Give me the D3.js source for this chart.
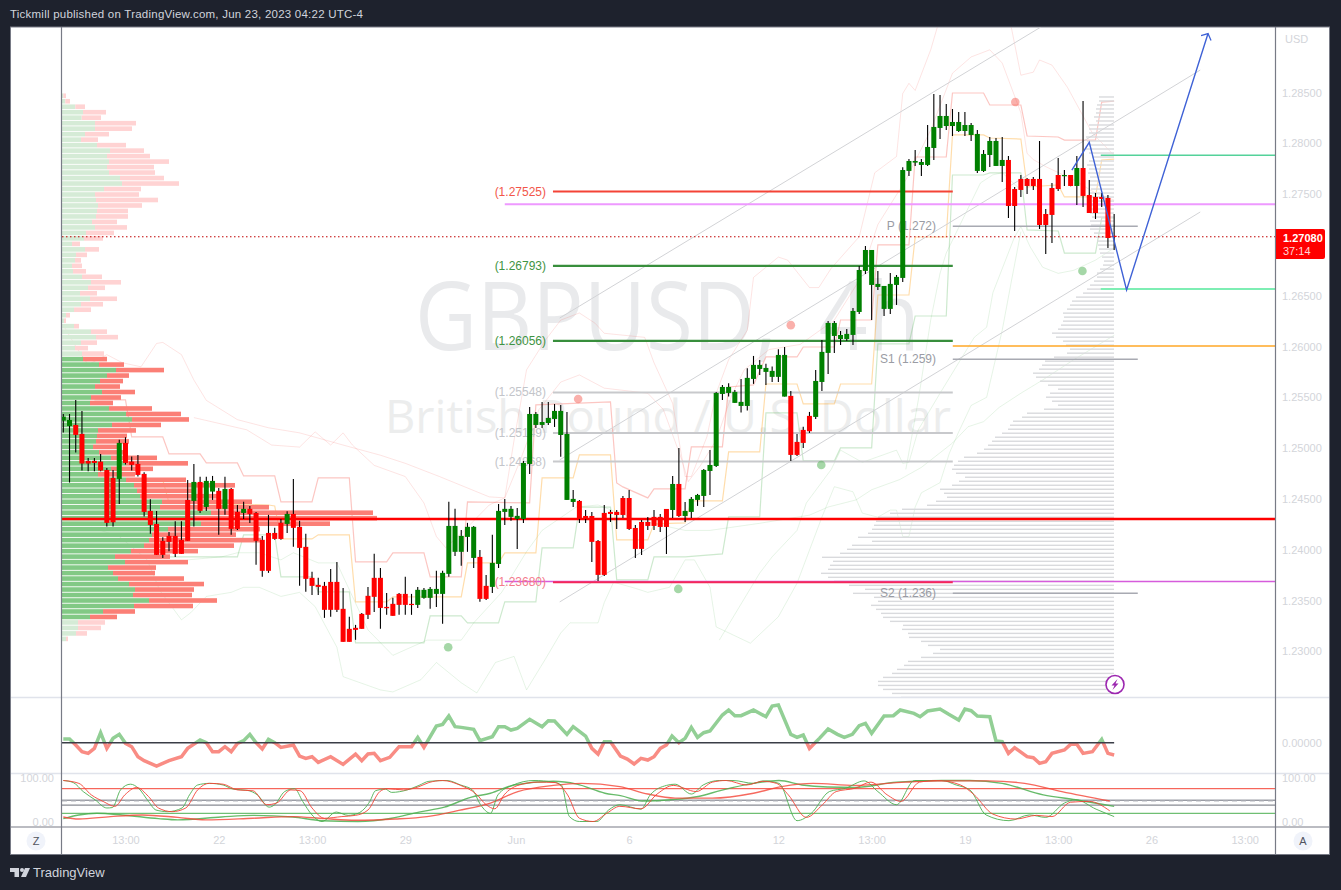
<!DOCTYPE html>
<html><head><meta charset="utf-8">
<style>html,body{margin:0;padding:0;background:#1e222d;overflow:hidden}svg{display:block}text{font-family:"Liberation Sans",Arial,sans-serif}</style>
<script src="https://cdn.jsdelivr.net/npm/d3@7/dist/d3.min.js"></script>
</head><body><svg id="c" width="1341" height="890"></svg>
<script>
// ---------- candles (GBPUSD 4h) ----------
const opens=[1.25271,1.25218,1.25228,1.25140,1.24874,1.24874,1.24867,1.24785,1.24707,1.24697,1.25051,1.24867,1.24844,1.24746,1.24382,1.24254,1.24087,1.24136,1.24136,1.24097,1.24490,1.24480,1.24667,1.24421,1.24572,1.24579,1.24402,1.24598,1.24372,1.24362,1.24402,1.24362,1.24097,1.24165,1.24165,1.24264,1.24254,1.24352,1.24225,1.24028,1.23723,1.23654,1.23644,1.23683,1.23683,1.23418,1.23221,1.23231,1.23368,1.23546,1.23723,1.23723,1.23437,1.23467,1.23565,1.23565,1.23467,1.23457,1.23526,1.23526,1.23565,1.23565,1.23762,1.23979,1.23979,1.24126,1.23919,1.23929,1.23644,1.23634,1.23860,1.24372,1.24323,1.24303,1.24303,1.24844,1.25228,1.25228,1.25247,1.25287,1.25129,1.24490,1.24470,1.24480,1.24332,1.24332,1.24086,1.24362,1.24372,1.24372,1.24509,1.24509,1.24214,1.24273,1.24273,1.24323,1.24323,1.24401,1.24391,1.24647,1.24332,1.24372,1.24490,1.24529,1.24775,1.24824,1.25533,1.25543,1.25445,1.25415,1.25415,1.25681,1.25779,1.25750,1.25701,1.25701,1.25507,1.25514,1.25061,1.25179,1.25317,1.25307,1.25651,1.25937,1.26104,1.26074,1.26074,1.26114,1.26340,1.26744,1.26606,1.26586,1.26370,1.26370,1.26606,1.26675,1.27728,1.27810,1.27787,1.27787,1.27954,1.28151,1.28170,1.28170,1.28121,1.28121,1.28082,1.27728,1.27728,1.27885,1.27777,1.27777,1.27836,1.27550,1.27649,1.27649,1.27649,1.27649,1.27304,1.27560,1.27688,1.27678,1.27688,1.27580,1.27757,1.27491,1.27472,1.27472,1.27462,1.27090];
const highs=[1.25336,1.25336,1.25474,1.25366,1.24903,1.24903,1.24943,1.24805,1.24785,1.25081,1.25107,1.24917,1.24933,1.24762,1.24497,1.24382,1.24123,1.24175,1.24280,1.24280,1.24687,1.24844,1.24717,1.24717,1.24726,1.24608,1.24717,1.24608,1.24441,1.24471,1.24431,1.24372,1.24136,1.24343,1.24215,1.24303,1.24379,1.24697,1.24284,1.24156,1.23782,1.23723,1.23683,1.23811,1.23880,1.23624,1.23339,1.23260,1.23378,1.23634,1.23959,1.23821,1.23575,1.23526,1.23575,1.23733,1.23565,1.23634,1.23624,1.23634,1.23792,1.23792,1.24471,1.24402,1.24195,1.24264,1.24234,1.23998,1.23752,1.24146,1.24451,1.24500,1.24431,1.24411,1.24874,1.25405,1.25356,1.25454,1.25454,1.25434,1.25425,1.25356,1.24588,1.24490,1.24391,1.24372,1.24096,1.24441,1.24391,1.24391,1.24529,1.24588,1.24244,1.24293,1.24323,1.24391,1.24352,1.24401,1.24726,1.25001,1.24470,1.24519,1.24549,1.24795,1.24982,1.25553,1.25622,1.25638,1.25573,1.25681,1.25786,1.25907,1.25868,1.25829,1.25802,1.25973,1.25996,1.25563,1.25140,1.25209,1.25356,1.25769,1.26065,1.26252,1.26252,1.26153,1.26173,1.26379,1.26793,1.26990,1.26950,1.26744,1.26596,1.26724,1.26704,1.27764,1.27846,1.27934,1.27846,1.28180,1.28485,1.28475,1.28387,1.28338,1.28308,1.28308,1.28200,1.28131,1.27934,1.28062,1.28052,1.28062,1.27875,1.27570,1.27688,1.27659,1.27669,1.28023,1.27354,1.27609,1.27855,1.27737,1.27688,1.27875,1.28416,1.27639,1.27511,1.27511,1.27491,1.27304];
const lows=[1.25153,1.24661,1.24956,1.24779,1.24772,1.24772,1.24772,1.24228,1.24228,1.24451,1.24838,1.24779,1.24720,1.24326,1.24156,1.23949,1.23919,1.23985,1.23929,1.23959,1.24087,1.24228,1.24362,1.24382,1.24490,1.24146,1.24343,1.24146,1.24195,1.24303,1.24264,1.23851,1.23733,1.23772,1.24097,1.24097,1.24165,1.24028,1.23644,1.23585,1.23555,1.23555,1.23329,1.23339,1.23388,1.23093,1.23093,1.23113,1.23221,1.23319,1.23388,1.23221,1.23359,1.23349,1.23359,1.23359,1.23359,1.23427,1.23516,1.23418,1.23437,1.23270,1.23733,1.23939,1.23841,1.23979,1.23821,1.23487,1.23506,1.23575,1.23821,1.24244,1.24284,1.24008,1.24263,1.24746,1.25198,1.25198,1.25228,1.25208,1.24916,1.24490,1.24421,1.24263,1.24263,1.23880,1.23693,1.23742,1.24273,1.24204,1.24313,1.24195,1.23919,1.23949,1.24195,1.24195,1.24175,1.23958,1.24313,1.24323,1.24273,1.24313,1.24431,1.24421,1.24539,1.24815,1.25474,1.25507,1.25445,1.25350,1.25369,1.25632,1.25720,1.25622,1.25651,1.25651,1.25507,1.24874,1.24923,1.25002,1.25149,1.25287,1.25563,1.25730,1.25937,1.26015,1.26055,1.26015,1.26320,1.26714,1.26261,1.26557,1.26301,1.26320,1.26409,1.26635,1.27678,1.27777,1.27678,1.27777,1.27836,1.28042,1.28131,1.28072,1.28111,1.28072,1.28023,1.27708,1.27718,1.27767,1.27777,1.27619,1.27265,1.27137,1.27472,1.27501,1.27541,1.27157,1.26911,1.27019,1.27531,1.27580,1.27577,1.27393,1.27373,1.27314,1.27255,1.27373,1.26970,1.26950];
const closes=[1.25310,1.25277,1.25130,1.24848,1.24848,1.24854,1.24779,1.24264,1.24270,1.25051,1.24854,1.24835,1.24736,1.24372,1.24244,1.23949,1.23949,1.24077,1.23959,1.23959,1.24087,1.24667,1.24382,1.24677,1.24677,1.24402,1.24598,1.24205,1.24205,1.24402,1.24352,1.24087,1.23792,1.23792,1.24106,1.24106,1.24352,1.24215,1.24018,1.23713,1.23644,1.23634,1.23408,1.23408,1.23408,1.23093,1.23093,1.23211,1.23221,1.23359,1.23536,1.23427,1.23424,1.23349,1.23457,1.23457,1.23457,1.23605,1.23605,1.23614,1.23614,1.23772,1.24234,1.24234,1.24136,1.24225,1.24225,1.23516,1.23516,1.23870,1.24382,1.24402,1.24402,1.24333,1.24854,1.25336,1.25336,1.25257,1.25297,1.25366,1.25366,1.25139,1.24500,1.24303,1.24303,1.24077,1.23752,1.23752,1.24352,1.24342,1.24342,1.24204,1.24008,1.24008,1.24234,1.24234,1.24224,1.24224,1.24647,1.24332,1.24382,1.24500,1.24539,1.24785,1.24834,1.25543,1.25602,1.25602,1.25553,1.25455,1.25691,1.25819,1.25819,1.25789,1.25760,1.25917,1.25917,1.24933,1.24933,1.25051,1.25166,1.25661,1.25947,1.26232,1.26232,1.26114,1.26124,1.26350,1.26753,1.26950,1.26950,1.26616,1.26596,1.26616,1.26685,1.27737,1.27826,1.27826,1.27816,1.27964,1.28161,1.28269,1.28269,1.28210,1.28210,1.28180,1.28180,1.28092,1.27895,1.28023,1.28023,1.27836,1.27383,1.27383,1.27541,1.27580,1.27580,1.27196,1.27196,1.27295,1.27550,1.27688,1.27580,1.27757,1.27482,1.27314,1.27314,1.27452,1.27068,1.27080];

// ---------- volume profiles ----------
const vpUp=[1.3,3.3,13.3,21,19.7,33,33,23,19,35,48,45,47,45,47,58,60,42,33,34,36,35,34,30,33,24,22,10,23,14,13,10,11,20,29,26,18,28,19,12,4,2,12,29,34,19,13,20,21,37,54,45,38,33,40,29,28,47,64,70,50,36,35,34,31,37,49,64,49,36,64,72,75,78,100,98,149,131,139,106,90,87,82,69,53,63,46,51,56,67,73,71,87,72,41,28,16,16,14,4];
const vpDown=[2.7,4.7,9.7,23,19.3,41,37,24,17,29,34,43,60,47,46,44,57,37,44,62,44,31,32,25,32,28,19,8,14,11,6,10,13,20,30,17,17,27,22,17,4,2,5,16,22,16,13,22,24,25,48,22,23,25,33,30,23,43,55,57,49,38,30,33,27,24,46,62,42,37,60,101,59,80,90,109,162,184,129,92,84,112,90,67,55,63,48,42,66,75,59,59,68,59,32,27,27,23,11,2];
const grayVol=[15,15,17,18,18,20,18,25,25,25,28,27,25,28,25,22,25,27,25,26,24,25,24,23,25,24,22,24,25,24,22,24,23,24,20,18,17,16,15,14,12,10,11,14,17,17,20,24,27,31,38,42,44,47,51,50,51,53,56,62,58,51,48,44,47,60,69,72,75,81,78,74,66,56,64,68,62,56,70,87,92,101,104,106,112,119,122,126,130,137,150,156,160,162,158,149,155,162,174,170,167,178,187,212,224,236,238,240,242,246,256,242,262,267,274,292,281,284,286,293,286,280,265,249,261,240,236,243,238,233,231,224,211,212,206,205,193,186,174,181,193,206,210,217,222,231,236,236,231,222,213];

// ---------- stepped channel and bands: [bar, price] ----------
const donchianHigh=[[5,1.25474],[10,1.25474],[11,1.2511],[16,1.2511],[17,1.24943],[22,1.24943],[23,1.24854],[28,1.24854],[29,1.24726],[34,1.24726],[35,1.2447],[40,1.2447],[41,1.24706],[46,1.24706],[47,1.2388],[52,1.2388],[53,1.23968],[58,1.23968],[59,1.23732],[64,1.23732],[65,1.2447],[75,1.2446],[76,1.25425],[88,1.25454],[89,1.24657],[90,1.24618],[94,1.2451],[95,1.24598],[100,1.24598],[101,1.25012],[106,1.25012],[107,1.25602],[111,1.25622],[113,1.25897],[118,1.25897],[119,1.25995],[124,1.25995],[125,1.26261],[130,1.26261],[131,1.27],[136,1.27],[137,1.27865],[142,1.27865],[143,1.28495],[148,1.28495],[149,1.28377],[154,1.28377],[155,1.28072],[160,1.28062],[161,1.28032],[166,1.28032],[167,1.28406],[169,1.28416]];
const donchianMid=[[16,1.24687],[17,1.2446],[33,1.2444],[34,1.2443],[35,1.24106],[40,1.24106],[41,1.24146],[46,1.24146],[47,1.23486],[52,1.23486],[53,1.23535],[64,1.23535],[65,1.2387],[70,1.2387],[71,1.23968],[76,1.23968],[77,1.24706],[82,1.24706],[83,1.24933],[88,1.24933],[89,1.24096],[94,1.24096],[95,1.24254],[100,1.24264],[101,1.2448],[106,1.2448],[107,1.24962],[112,1.24962],[113,1.25631],[118,1.25631],[119,1.25435],[124,1.25435],[125,1.25631],[130,1.25631],[131,1.26507],[136,1.26507],[137,1.27078],[142,1.27078],[143,1.28082],[148,1.28082],[149,1.28052],[154,1.28042],[155,1.2757],[160,1.2759],[161,1.27472],[166,1.27472],[167,1.27836],[169,1.27845]];
const donchianLow=[[17,1.2393],[28,1.2393],[29,1.24146],[34,1.24146],[35,1.23732],[40,1.23732],[41,1.23585],[46,1.23585],[47,1.23083],[58,1.23083],[59,1.23349],[64,1.23349],[65,1.2328],[70,1.2328],[71,1.23486],[76,1.23486],[77,1.24018],[82,1.24018],[83,1.2442],[88,1.2442],[89,1.23703],[94,1.23703],[95,1.2393],[100,1.2393],[106,1.23959],[107,1.24323],[112,1.24323],[113,1.25346],[118,1.25346],[119,1.24874],[124,1.24874],[125,1.25002],[130,1.25002],[131,1.26025],[136,1.26025],[137,1.263],[142,1.263],[143,1.27688],[148,1.27688],[149,1.27708],[154,1.27708],[155,1.27147],[160,1.27137],[161,1.2692],[166,1.2692],[167,1.27265],[169,1.27265]];
const bandUpperOuter=[[0,1.2621],[2,1.26],[4,1.2582],[7,1.2592],[9.5,1.2584],[12.5,1.258],[15,1.2603],[16,1.2604],[19,1.2592],[21,1.2567],[23,1.2547],[28,1.2528],[33,1.252],[38,1.2515],[45,1.2503],[51,1.2493],[55,1.2485],[60.5,1.2472],[68.5,1.2452],[71,1.2451],[72.5,1.2508],[74.5,1.2577],[77.5,1.2606],[80,1.2626],[83,1.2633],[85.5,1.2623],[87,1.2613],[93.5,1.2609],[95,1.2584],[98,1.2544],[100,1.2472],[101,1.2472],[103.5,1.2511],[105,1.2554],[107,1.2587],[110,1.2616],[111,1.2668],[115,1.2688],[116.5,1.2685],[120,1.2658],[121.5,1.2658],[123.5,1.2677],[128,1.2708],[130.5,1.2771],[134,1.2787],[135,1.2849],[136,1.2859],[137,1.2852],[139.5,1.2892],[140.5,1.2913],[144,1.2961],[150.5,1.2961],[152.5,1.2913],[154,1.2867],[156,1.287],[157,1.2882],[159,1.2877],[161.5,1.2855],[165.5,1.281],[169,1.2788]];
const bandUpperInner=[[21,1.253],[29.5,1.2518],[33.5,1.2503],[38,1.2501],[40.5,1.2516],[43,1.2503],[45,1.2515],[46.5,1.2503],[50,1.2483],[55,1.2472],[58,1.2446],[60,1.2413],[61.5,1.2402],[64.5,1.2419],[68.5,1.2444],[71,1.2451],[73.5,1.2488],[76.5,1.2538],[80,1.2565],[83,1.2572],[87,1.2559],[94,1.2554],[96.5,1.2538],[99.5,1.2488],[100.5,1.2467],[102.5,1.2483],[105,1.2508],[107.5,1.2552],[109.5,1.2577],[113.5,1.2597],[118.5,1.2602],[124,1.2626],[128,1.2665],[131,1.272],[135.5,1.2764],[139.5,1.2813],[143,1.2869],[146,1.2885],[149,1.2892],[151,1.2879],[154,1.283],[155,1.279],[156,1.2784],[158,1.2777],[162.5,1.2764],[166,1.2751],[169,1.2744]];
const bandLowerInner=[[20,1.239],[25.5,1.2393],[28,1.2397],[31.5,1.2397],[35,1.239],[37,1.2397],[41,1.2387],[44,1.2387],[46.5,1.2354],[49,1.2321],[53,1.2296],[58.5,1.2311],[64,1.2311],[66,1.2328],[70.5,1.2358],[74.5,1.2398],[77,1.2419],[82.5,1.2442],[86,1.2444],[92.5,1.2429],[100,1.2419],[104,1.2419],[112,1.2426],[120,1.2434],[123,1.2442],[127.5,1.2449],[130,1.2459],[134.5,1.2469],[138,1.2481],[143,1.2505],[145.5,1.2521],[148,1.2526],[150.5,1.254],[154,1.2554],[157.5,1.2567],[162.5,1.2587],[169,1.2611]];
const bandLowerOuter=[[4.5,1.2422],[9,1.2413],[13.5,1.239],[15.5,1.236],[19,1.2331],[20.5,1.2338],[23,1.2354],[27,1.2358],[29,1.2363],[31.5,1.2363],[35,1.2354],[38,1.2358],[40.5,1.2344],[44,1.2304],[45,1.2275],[51,1.2262],[53,1.226],[57.5,1.2272],[60,1.2289],[64,1.2269],[66.5,1.2259],[69.5,1.2289],[72.5,1.2295],[74.5,1.2262],[77.5,1.2292],[80,1.2318],[81.5,1.2328],[86,1.2328],[87,1.2348],[88.5,1.2368],[92,1.2362],[94,1.2358],[97.5,1.2363],[100,1.239],[101.5,1.239],[104,1.2363],[105,1.2324],[110.5,1.2308],[115,1.2334],[118,1.2367],[122,1.2432],[124,1.2462],[127,1.2457],[128.5,1.2436],[131,1.2432],[133,1.2439],[134,1.2439],[135,1.2413],[136,1.2413],[137,1.2442],[138,1.2456],[141,1.2466],[142.5,1.2495],[144,1.2516],[146,1.2542],[148.5,1.255],[151,1.2616],[152.5,1.2665],[154,1.2713]];
const bandLowerThird=[[105.5,1.2311],[112,1.2377],[114,1.2393],[118,1.2419],[119.5,1.2446],[123.5,1.2479],[125,1.2498],[128.5,1.2486],[134,1.2498],[135,1.2485],[136,1.2486],[137.5,1.2518],[141,1.2554],[143,1.2574],[146.5,1.2609],[148.5,1.2619],[149.5,1.2653],[153,1.2708],[154,1.2718],[155.5,1.2698],[157.5,1.2678],[160,1.2672],[162.5,1.2675],[166,1.2685],[169,1.2697]];
const bandLowerFourth=[[135.5,1.2479],[137.5,1.2547],[139.5,1.2626],[141,1.2672],[142,1.2692],[147.5,1.2761],[149.5,1.2769],[151,1.2771],[154,1.2754]];

// ---------- channel, drawing, signals ----------
const channels=[[[79.83,1.2628],[157.2,1.29144]],[[79.83,1.24884],[182.85,1.28721]],[[79.83,1.23486],[182.85,1.27324]]];
const forecastPath=[[162.2,1.27737],[165,1.2801],[171,1.26556],[184.1,1.2908]];
const signalsRed=[[82.8,1.25484],[117,1.2621],[153.1,1.28406]];
const signalsGreen=[[61.9,1.2304],[98.9,1.23614],[121.9,1.24834],[163.9,1.26743]];

// ---------- levels: price, from bar, to bar ----------
const greenLevels=[[1.26793,78.75,143.05],[1.26056,78.75,143.05]];
const grayLevels=[[1.25548,78.75,143.05],[1.25149,78.75,143.05],[1.24868,78.75,143.05]];
const pivotLevels=[[1.27183,143.05,172.8],[1.25874,143.05,172.8],[1.23572,143.05,172.8]];
const levelLabels=["(1.27525)","(1.26793)","(1.26056)","(1.25548)","(1.25149)","(1.24868)","(1.23680)"];
const levelLabelPrices=[1.27525,1.26793,1.26056,1.25548,1.25149,1.24868,1.2368];
const levelLabelColors=["#f2564a","#3f9443","#3f9443","#c3c5ca","#c3c5ca","#c3c5ca","#f47a8c"];
const pivotLabels=["P (1.272)","S1 (1.259)","S2 (1.236)"];
const pocPrice=1.24303, lastPrice=1.2708;

// ---------- momentum: bar, value ----------
const momBars=[0,1,2,3,4,5,6,7,8,9,10,11,12,13,14,15,17,19,20,22,23,24,25,26,27,28,29,30,31,32,33,34,35,37,38,39,40,41,43,45,47,48,49,50,51,52.5,54,56,57,58,60,61,62,63,64,66,67,69,70,71,72,73,75,77,78,79,81,82,84,85,86,87,88,89.6,90.7,91.8,92.9,94,95,96,97,97.9,99,100,101,102,103,104,106,107,108,109,111,113,114,115,117,118,119,120,121.6,123,124.5,125.6,126.9,128,129,130,132,133.5,134.6,136.8,137.8,139,141,142.4,144,145,146,147,149,150,151,152,153,155,156,157,158,159,161,162,163,164,165.5,167,168,169];
const momVals=[11,11,-7,-27,-32,-17,30,-17,13,25,-2,-12,-42,-54,-62,-70,-54,-42,-17,8,0,-27,-27,-12,-27,-2,6,25,0,-19,10,0,-14,-7,-40,-47,-42,-59,-42,-65,-34,-54,-34,-32,-54,-44,-12,-12,16,-14,50,55,80,48,46,40,6,18,48,48,38,43,70,48,66,65,25,48,20,-17,-34,3,3,-40,-49,-64,-47,-52,-42,-17,-7,20,0,13,46,16,30,35,83,98,81,81,98,78,110,113,25,16,23,-17,13,41,25,16,25,51,58,28,80,81,98,88,78,95,101,85,68,101,96,80,78,5,3,-32,-15,-42,-45,-62,-57,-32,-22,-5,-5,-32,-27,10,-32,-37];

// ---------- stochastic: [bar, value] ----------
const stochFastG=[[0,100],[1.6,95],[3.2,73],[5.1,53],[7,33],[7.9,34],[9.2,77],[10.8,91],[12.1,81],[13.7,49],[14.9,28],[16.8,24],[19.1,33],[20.3,65],[21.6,89],[23.5,93],[25.7,89],[27.3,79],[29.6,76],[31.2,65],[33.1,35],[34,41],[35.6,73],[37.2,80],[38.5,49],[40,16],[41.6,0],[43.9,23],[45.8,15],[47.4,20],[49.3,49],[50.2,75],[51.8,79],[52.8,71],[55.3,77],[57.2,88],[58.8,98],[61.7,100],[63.9,89],[65.8,77],[67.1,41],[68.7,20],[69.9,65],[72.2,88],[75.7,100],[78.8,96],[80.1,89],[81.4,12],[83,0],[85.8,0],[87.7,28],[89.5,41],[92.9,30],[94.4,65],[97,88],[98.4,91],[101,67],[102.9,89],[105.5,100],[107.7,100],[111,93],[112.5,99],[115.1,93],[118,2],[120.3,20],[123.2,73],[125.8,81],[128.8,99],[131,73],[134,41],[136.9,100],[141.3,100],[143.6,89],[145.8,77],[148.4,16],[152.1,2],[155.4,16],[158,10],[161,45],[162.8,53],[166.1,30],[169,12]];
const stochFastR=[[0,100],[2.5,93],[4.5,65],[6.4,49],[8.3,37],[9.9,65],[11.8,83],[13.7,61],[15.3,33],[17.5,24],[19.7,33],[21.6,77],[23.5,93],[25.7,91],[28,77],[30.5,75],[32.7,41],[34.3,45],[36.6,77],[38.1,75],[40,33],[42,8],[44.8,12],[47,15],[49,28],[50.9,73],[52.1,80],[54.7,77],[57.2,85],[58.8,95],[61,100],[63.9,88],[66.4,67],[68,41],[69.4,31],[70.9,65],[73.1,88],[76.3,96],[79.1,95],[81.1,65],[83,8],[85.2,0],[87.4,20],[89.5,37],[92.9,31],[95.5,67],[98.1,88],[101.8,73],[104.4,96],[106.6,100],[109.9,89],[112.5,98],[114.7,93],[116.6,65],[119.5,10],[122.1,41],[124.3,73],[127.3,81],[129.9,96],[132.5,65],[134.7,49],[137.7,96],[140.6,100],[144.3,89],[146.5,65],[149.5,18],[153.2,6],[156.5,15],[159,12],[162,47],[165,49],[168.3,26]];
const stochSlowG=[[0,7],[2.5,16],[5.4,20],[9.5,16],[15.3,7],[18.4,4],[25.4,11],[30.5,15],[36.9,11],[41.6,2],[47.4,0],[52.8,8],[57.2,23],[61.3,35],[65.5,59],[68.7,69],[72.5,89],[78.8,98],[82.6,91],[87.1,69],[89.6,63],[93.3,50],[97.7,53],[102.1,61],[105.8,76],[111,93],[115.1,100],[118.8,89],[122.9,84],[127.3,83],[134,96],[141.3,100],[145.8,100],[151,93],[157.6,65],[162.8,53],[169,37]];
const stochSlowR=[[0,11],[2.5,6],[7.6,12],[12.7,16],[18.4,10],[22.9,4],[30.5,8],[36.9,12],[42,7],[47,3],[53.4,6],[58.5,12],[63.6,27],[68.7,45],[73.1,73],[78.8,88],[83.3,93],[89.5,85],[94,67],[98.4,57],[104.4,57],[111,69],[115.5,85],[120.6,93],[127.3,88],[135.4,96],[141.3,99],[148.7,99],[154.6,93],[160.6,73],[168.3,50]];
const stochLevels=[[80,"#f44336",null],[52,"#6a6d78",null],[50,"#b5b7bd","5,4"],[40,"#6a6d78",null],[20,"#4caf50",null]];

// ---------- axes ----------
const priceTicks=[1.285,1.28,1.275,1.265,1.26,1.255,1.25,1.245,1.24,1.235,1.23];
const timeTickBars=[10,25,40,55,72.8,91,115,130,145,160,175,190];
const timeTickLabels=["13:00","22","13:00","29","Jun","6","12","13:00","19","13:00","26","13:00"];

// ---------- layout ----------
const BAR0=63.3, BARW=6.218, ENDBAR=195.03, STARTBAR=-0.2;
const PL=61.5, PR=1275.5, PT=27, PB=697;

const svg=d3.select("#c");
const x=d3.scaleLinear().domain([0,190]).range([BAR0,BAR0+190*BARW]);
const y=d3.scaleLinear().domain([1.285,1.23]).range([92.5,651.3]);
const yMom=d3.scaleLinear().domain([-120,120]).range([782.7,702.7]);
const yStoch=d3.scaleLinear().domain([0,100]).range([821.5,780.5]);
const xVol=d3.scaleLinear().domain([0,330]).range([62,392]);
const xGray=d3.scaleLinear().domain([0,300]).range([1114,814]);
const BG="#1e222d";

svg.append("rect").attr("width",1341).attr("height",890).attr("fill",BG);
svg.append("rect").attr("x",10.5).attr("y",27).attr("width",1319).attr("height",827.5).attr("fill","#fff").attr("stroke","#787b86").attr("stroke-width",1);
svg.append("text").attr("x",10).attr("y",18).attr("fill","#d1d4dc").attr("font-size",11.5).attr("textLength",353)
  .text("Tickmill published on TradingView.com, Jun 23, 2023 04:22 UTC-4");

const defs=svg.append("defs");
defs.append("clipPath").attr("id","pane").append("rect").attr("x",62).attr("y",27.5).attr("width",PR-62).attr("height",PB-27.5);
defs.append("clipPath").attr("id","momUp").append("rect").attr("x",62).attr("y",698).attr("width",PR-62).attr("height",yMom(0)-698);
defs.append("clipPath").attr("id","momDn").append("rect").attr("x",62).attr("y",yMom(0)).attr("width",PR-62).attr("height",773-yMom(0));

// watermark
const wm=svg.append("g");
wm.append("text").attr("transform","translate(415,350) scale(0.89,1)").attr("font-size",96).attr("fill","#e9eaec").attr("word-spacing",22).style("font-family","'Open Sans'").text("GBPUSD, 4h");
wm.append("text").attr("x",385).attr("y",433).attr("font-size",46).attr("fill","#eceded").attr("textLength",566).attr("lengthAdjust","spacingAndGlyphs").style("font-family","'Open Sans'").text("British Pound / U.S. Dollar");

const main=svg.append("g").attr("clip-path","url(#pane)");
const ln=d3.line().x(d=>x(d[0])).y(d=>y(d[1]));
const pale=(data,col,op,w)=>main.append("path").attr("d",ln(data)).attr("fill","none").attr("stroke",col).attr("stroke-opacity",op).attr("stroke-width",w);
[bandUpperOuter,bandUpperInner].forEach(d=>pale(d,"#f44336",.14,1));
[bandLowerInner,bandLowerOuter,bandLowerThird,bandLowerFourth].forEach(d=>pale(d,"#4caf50",.14,1));
pale(donchianHigh,"#f44336",.3,1.2);
pale(donchianMid,"#ff9800",.33,1.2);
pale(donchianLow,"#4caf50",.28,1.2);

// left volume profile
const rowY=i=>y(1.28468-i*0.00054);
const dark=i=>i>=48&&i<=95;
main.append("g").selectAll("rect").data(vpUp).join("rect")
  .attr("x",xVol(0)).attr("y",(d,i)=>rowY(i)-2.3).attr("height",4.6).attr("width",d=>xVol(d)-xVol(0))
  .attr("fill",(d,i)=>dark(i)?"#82c985":"#d5ebd6");
main.append("g").selectAll("rect").data(vpDown).join("rect")
  .attr("x",(d,i)=>xVol(vpUp[i])).attr("y",(d,i)=>rowY(i)-2.3).attr("height",4.6).attr("width",d=>xVol(d)-xVol(0))
  .attr("fill",(d,i)=>dark(i)?"#fb7f76":"#ffd3d3");

// right volume profile
main.append("g").selectAll("rect").data(grayVol).join("rect")
  .attr("x",d=>xGray(d)).attr("y",(d,i)=>y(1.28456-i*0.000394)-.7).attr("height",1.4).attr("width",d=>xGray(0)-xGray(d))
  .attr("fill","#d9dadd");

// channels
channels.forEach(c=>main.append("path").attr("d",ln(c)).attr("fill","none").attr("stroke","#d2d3d6").attr("stroke-width",1));

// levels
const seg=(p,a,b,col,w)=>main.append("line").attr("x1",x(a)).attr("x2",x(b)).attr("y1",y(p)).attr("y2",y(p)).attr("stroke",col).attr("stroke-width",w);
seg(1.27525,78.75,143.05,"#f44336",2);
greenLevels.forEach(l=>seg(l[0],l[1],l[2],"#388e3c",2.2));
grayLevels.forEach(l=>seg(l[0],l[1],l[2],"#c8c9cc",2));
pivotLevels.forEach(l=>seg(l[0],l[1],l[2],"#a8aab2",1.5));
seg(1.2740,71,ENDBAR,"#ee99ff",2);
seg(1.23686,71,ENDBAR,"#d65cdc",1.5);
seg(1.2368,78.75,143.05,"#f4285a",2);
seg(1.26005,143.05,ENDBAR,"#ffa726",1.6);
seg(1.27882,166.85,ENDBAR,"#54d29a",1.4);
seg(1.26566,166.85,ENDBAR,"#7eeeb4",2);
seg(pocPrice,STARTBAR,ENDBAR,"#ff0000",2.5);
main.append("line").attr("x1",62).attr("x2",PR).attr("y1",y(lastPrice)).attr("y2",y(lastPrice)).attr("stroke","#c00000").attr("stroke-width",1).attr("stroke-dasharray","1.5 2.5");

// labels
levelLabels.forEach((t,i)=>main.append("text").attr("x",546).attr("y",y(levelLabelPrices[i])+4).attr("text-anchor","end").attr("font-size",12).attr("fill",levelLabelColors[i]).text(t));
pivotLabels.forEach((t,i)=>main.append("text").attr("x",936).attr("y",y(pivotLevels[i][0])+4).attr("text-anchor","end").attr("font-size",12).attr("fill","#9a9ca4").text(t));

// signals
main.append("g").selectAll("circle").data(signalsRed).join("circle").attr("cx",d=>x(d[0])).attr("cy",d=>y(d[1])).attr("r",4.3).attr("fill","#f44336").attr("fill-opacity",.42);
main.append("g").selectAll("circle").data(signalsGreen).join("circle").attr("cx",d=>x(d[0])).attr("cy",d=>y(d[1])).attr("r",4.3).attr("fill","#4caf50").attr("fill-opacity",.5);

// candles
const idx=d3.range(opens.length);
const cg=main.append("g");
cg.selectAll("line").data(idx).join("line").attr("x1",i=>x(i)).attr("x2",i=>x(i)).attr("y1",i=>y(highs[i])).attr("y2",i=>y(lows[i])).attr("stroke","#000").attr("stroke-width",1.1);
cg.selectAll("rect").data(idx).join("rect")
  .attr("x",i=>x(i)-2.5).attr("width",5)
  .attr("y",i=>Math.min(y(opens[i]),y(closes[i])))
  .attr("height",i=>Math.max(1.2,Math.abs(y(opens[i])-y(closes[i]))))
  .attr("fill",i=>closes[i]>=opens[i]?"#008000":"#ff0000");

// forecast arrow
main.append("path").attr("d",ln(forecastPath)).attr("fill","none").attr("stroke","#3f62d6").attr("stroke-width",1.4);
const tip=forecastPath[forecastPath.length-1];
main.append("path").attr("d",`M${x(tip[0])-7},${y(tip[1])+2} L${x(tip[0])},${y(tip[1])} L${x(tip[0])+3},${y(tip[1])+7}`).attr("fill","none").attr("stroke","#3f62d6").attr("stroke-width",1.3);

// bolt icon
const bolt=svg.append("g").attr("transform","translate(1115,684.5)");
bolt.append("circle").attr("r",9).attr("fill","#fff").attr("stroke","#9c27b0").attr("stroke-width",1.6);
bolt.append("path").attr("d","M2.5,-5.5 L-3.5,1 L-0.5,1 L-2.5,5.5 L3.5,-1 L0.5,-1 Z").attr("fill","#9c27b0");

// momentum pane
const momLine=d3.line().x((d,i)=>x(momBars[i])).y(d=>yMom(d));
svg.append("path").attr("d",momLine(momVals)).attr("fill","none").attr("stroke","#92cf95").attr("stroke-width",3.5).attr("clip-path","url(#momUp)");
svg.append("path").attr("d",momLine(momVals)).attr("fill","none").attr("stroke","#f98c84").attr("stroke-width",3.5).attr("clip-path","url(#momDn)");
svg.append("line").attr("x1",62).attr("x2",x(169)).attr("y1",yMom(0)).attr("y2",yMom(0)).attr("stroke","#3a3d47").attr("stroke-width",1.4);

// stochastic pane
stochLevels.forEach(l=>svg.append("line").attr("x1",62).attr("x2",PR).attr("y1",yStoch(l[0])).attr("y2",yStoch(l[0])).attr("stroke",l[1]).attr("stroke-width",1).attr("stroke-dasharray",l[2]));
const sl=d3.line().x(d=>x(d[0])).y(d=>yStoch(d[1])).curve(d3.curveMonotoneX);
const st=(d,c,w,o)=>svg.append("path").attr("d",sl(d)).attr("fill","none").attr("stroke",c).attr("stroke-width",w).attr("stroke-opacity",o);
st(stochSlowG,"#4caf50",1.4,.85);st(stochSlowR,"#f44336",1.4,.8);
st(stochFastG,"#4caf50",.9,1);st(stochFastR,"#f44336",.9,1);

// frame lines
const hl=(yy,c,w)=>svg.append("line").attr("x1",11).attr("x2",1329).attr("y1",yy).attr("y2",yy).attr("stroke",c).attr("stroke-width",w);
hl(697.5,"#e0e3eb",1.4);hl(773.5,"#e0e3eb",1.4);hl(827,"#787b86",1.2);
[PL,PR].forEach(v=>svg.append("line").attr("x1",v).attr("x2",v).attr("y1",27).attr("y2",854).attr("stroke","#787b86").attr("stroke-width",1.2));

// axes
const tickCol="#d3d5da";
const styleAxis=g=>{g.select(".domain").remove();g.selectAll("line").remove();g.selectAll("text").attr("fill",tickCol).attr("font-size",11).style("font-family","'Liberation Sans'");};
svg.append("g").attr("transform",`translate(1282,0)`).call(d3.axisRight(y).tickValues(priceTicks).tickSize(0).tickPadding(0).tickFormat(d3.format(".5f"))).call(styleAxis);
svg.append("g").attr("transform",`translate(0,836)`).call(d3.axisBottom(x).tickValues(timeTickBars).tickSize(0).tickPadding(0).tickFormat((d,i)=>timeTickLabels[i])).call(styleAxis);
const txt=(xx,yy,t,anchor,col,size,weight)=>svg.append("text").attr("x",xx).attr("y",yy).attr("text-anchor",anchor||"start").attr("fill",col||tickCol).attr("font-size",size||11).attr("font-weight",weight||400).text(t);
txt(1285,43,"USD");
txt(1282,yMom(0)+4,"0.00000");
txt(1282,782,"100.00");txt(1282,826,"0.00");
txt(54,782,"100.00","end");txt(54,826,"0.00","end");

// last price tag
svg.append("path").attr("d","M1276,229 H1323 a2,2 0 0 1 2,2 V257 a2,2 0 0 1 -2,2 H1276 Z").attr("fill","#ff0000");
txt(1283,242,d3.format(".5f")(lastPrice),"start","#fff",11,700);
txt(1283,255,"37:14","start","#ffd6d6",11);

// Z / A
[[36,"Z"],[1303,"A"]].forEach(d=>{
  svg.append("circle").attr("cx",d[0]).attr("cy",841).attr("r",9.5).attr("fill","#f0f3fa");
  txt(d[0],845,d[1],"middle","#50535e",11);
});

// footer logo
const lg=svg.append("g").attr("fill","#d1d4dc");
lg.append("path").attr("d","M10,868 H19 V877 H14.5 V872 H10 Z");
lg.append("circle").attr("cx",22).attr("cy",870).attr("r",2);
lg.append("path").attr("d","M25,868 H30 L26,877 H21 Z");
txt(33,877,"TradingView","start","#d1d4dc",13);
</script></body></html>
